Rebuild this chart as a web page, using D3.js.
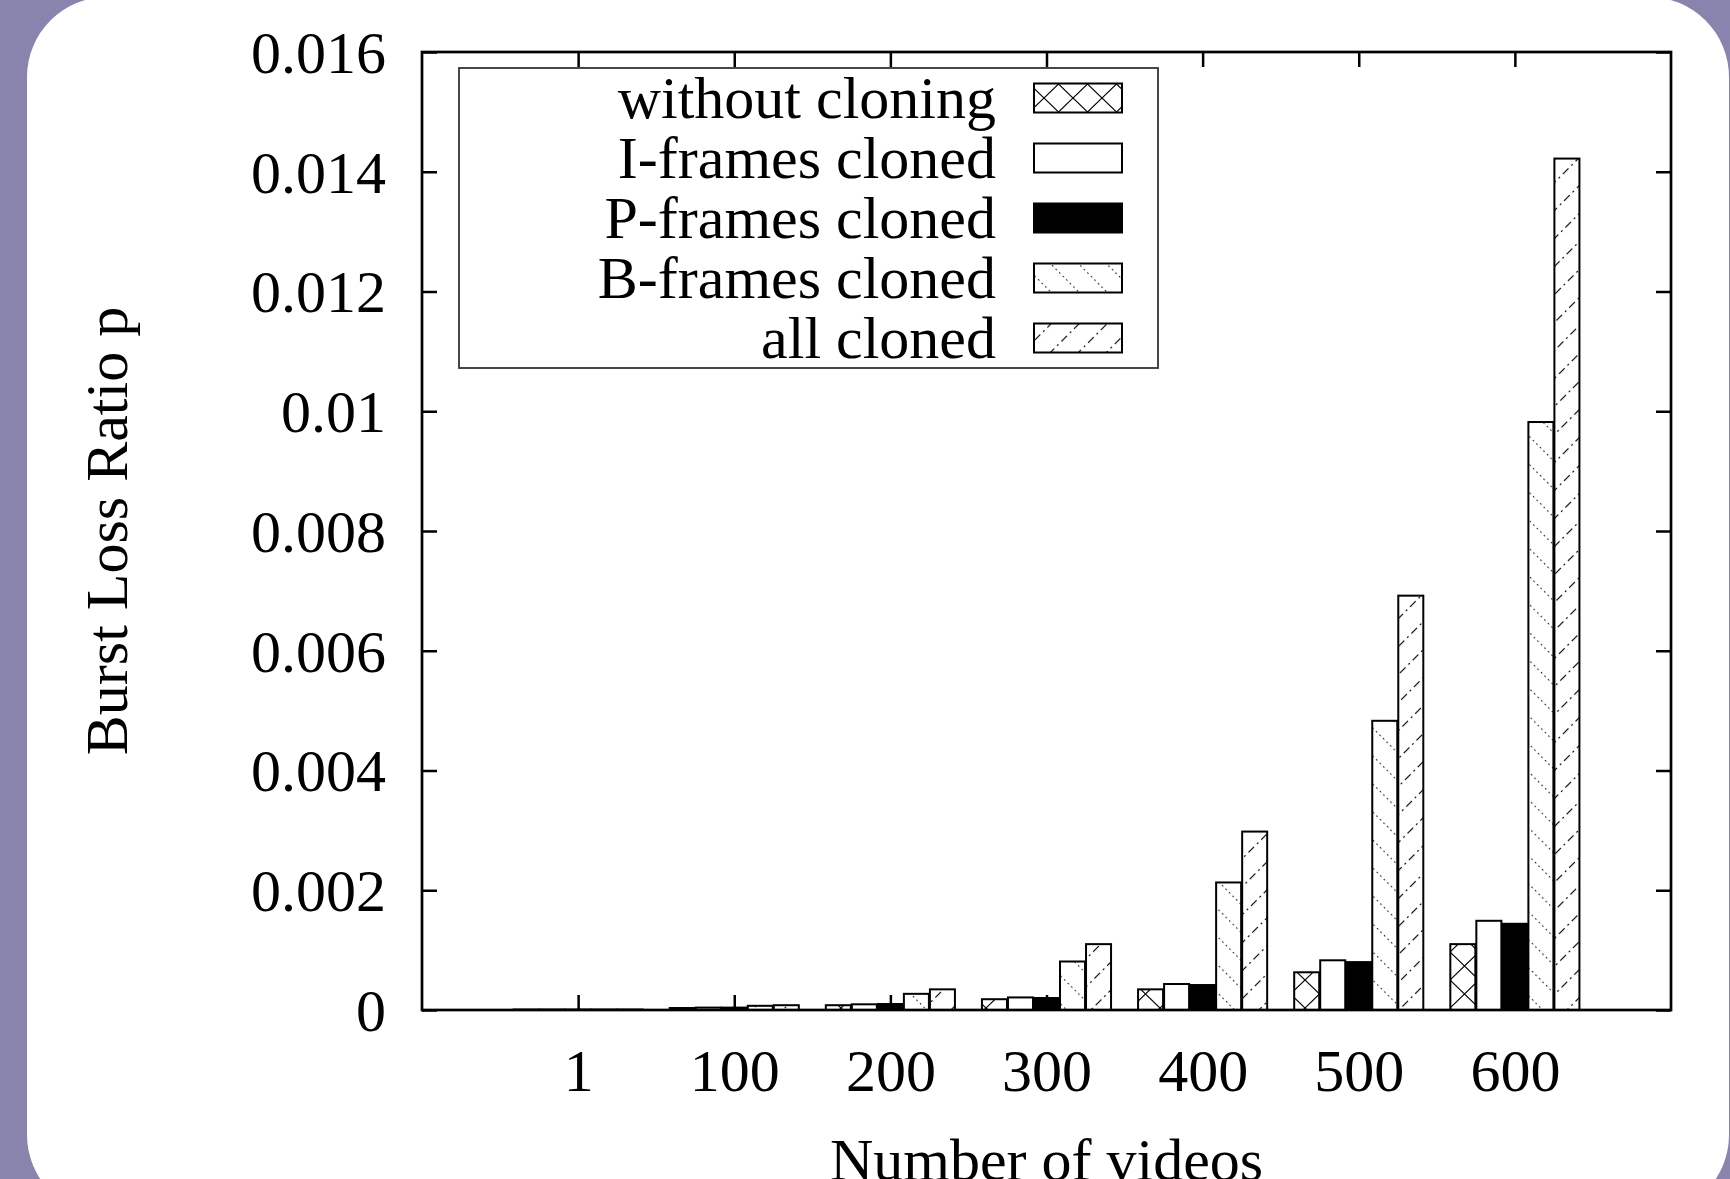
<!DOCTYPE html>
<html>
<head>
<meta charset="utf-8">
<script src="https://cdn.jsdelivr.net/npm/d3@7"></script>
<style>
  html, body { margin: 0; padding: 0; background: #8884ae; }
  svg { display: block; }
  text { font-family: "Liberation Serif", "DejaVu Serif", serif; fill: #000; }
</style>
</head>
<body>
<svg id="chart" width="1730" height="1179"></svg>
<script>
// values
const categories = ['1', '100', '200', '300', '400', '500', '600']
const seriesNames = ['without cloning', 'I-frames cloned', 'P-frames cloned', 'B-frames cloned', 'all cloned']
const withoutCloning = [0.000008, 0.000033, 0.00008, 0.00018, 0.000345, 0.00063, 0.0011]
const iFramesCloned = [0.000008, 0.00004, 0.000095, 0.00021, 0.000434, 0.00083, 0.00149]
const pFramesCloned = [0.000008, 0.00004, 0.0001, 0.0002, 0.000417, 0.0008, 0.00144]
const bFramesCloned = [0.000008, 0.00007, 0.00027, 0.00081, 0.00213, 0.00483, 0.00982]
const allCloned = [0.000008, 0.00008, 0.000345, 0.0011, 0.00298, 0.00692, 0.01422]
const yTicks = [0, 0.002, 0.004, 0.006, 0.008, 0.01, 0.012, 0.014, 0.016]
const yTickLabels = ['0', '0.002', '0.004', '0.006', '0.008', '0.01', '0.012', '0.014', '0.016']

const seriesValues = [withoutCloning, iFramesCloned, pFramesCloned, bFramesCloned, allCloned]
const fills = ['url(#pCross)', '#fff', '#000', 'url(#pBack)', 'url(#pSlash)']

const plotLeft = 422, plotRight = 1671, plotTop = 52, plotBottom = 1010
const fontSize = 60

const svg = d3.select('#chart')

// white rounded panel on the purple page
svg.append('rect')
  .attr('x', 27).attr('y', -3)
  .attr('width', 1702).attr('height', 1218)
  .attr('rx', 80).attr('ry', 80)
  .attr('fill', '#fff')

// fill patterns
const defs = svg.append('defs')
let p = defs.append('pattern').attr('id', 'pCross')
  .attr('patternUnits', 'userSpaceOnUse').attr('width', 29).attr('height', 28)
p.append('rect').attr('width', 29).attr('height', 28).attr('fill', '#fff')
p.append('path').attr('d', 'M0,0L29,28M29,0L0,28')
  .attr('stroke', '#000').attr('stroke-width', 1.2).attr('fill', 'none')

p = defs.append('pattern').attr('id', 'pBack')
  .attr('patternUnits', 'userSpaceOnUse').attr('width', 19.8).attr('height', 20)
  .attr('patternTransform', 'rotate(-45)')
p.append('rect').attr('width', 19.8).attr('height', 20).attr('fill', '#fff')
p.append('line').attr('x1', 0.5).attr('y1', 0).attr('x2', 0.5).attr('y2', 20)
  .attr('stroke', '#000').attr('stroke-width', 1.1).attr('stroke-dasharray', '1.5,3.5')

p = defs.append('pattern').attr('id', 'pSlash')
  .attr('patternUnits', 'userSpaceOnUse').attr('width', 19.8).attr('height', 36)
  .attr('patternTransform', 'rotate(45)')
p.append('rect').attr('width', 19.8).attr('height', 36).attr('fill', '#fff')
p.append('line').attr('x1', 0.5).attr('y1', 0).attr('x2', 0.5).attr('y2', 36)
  .attr('stroke', '#000').attr('stroke-width', 1.2).attr('stroke-dasharray', '8,4,2,4')

// scales
const x = d3.scaleLinear().domain([-1, 7]).range([plotLeft, plotRight])
const unit = x(1) - x(0)
const band = d3.scaleBand().domain(d3.range(seriesNames.length))
  .range([-unit * 5 / 12, unit * 5 / 12])
const y = d3.scaleLinear().domain([0, 0.016]).range([plotBottom, plotTop])

// bars
seriesValues.forEach((vals, s) => {
  svg.append('g').selectAll('rect').data(vals).enter()
    .append('rect')
    .attr('x', (d, i) => x(i) + band(s) + 0.5)
    .attr('width', band.bandwidth() - 1)
    .attr('y', d => y(d))
    .attr('height', d => plotBottom - y(d))
    .attr('fill', fills[s])
    .attr('stroke', '#000')
    .attr('stroke-width', 2)
})

// axes, ticks pointing inward
const catIdx = d3.range(categories.length)
const gL = svg.append('g').attr('transform', `translate(${plotLeft},0)`)
  .call(d3.axisLeft(y).tickValues(yTicks).tickFormat((d, i) => yTickLabels[i])
    .tickSize(-15).tickSizeOuter(0).tickPadding(36))
const gR = svg.append('g').attr('transform', `translate(${plotRight},0)`)
  .call(d3.axisRight(y).tickValues(yTicks).tickFormat('').tickSize(-15).tickSizeOuter(0))
const gB = svg.append('g').attr('transform', `translate(0,${plotBottom})`)
  .call(d3.axisBottom(x).tickValues(catIdx).tickFormat(i => categories[i])
    .tickSize(-15).tickSizeOuter(0).tickPadding(38))
const gT = svg.append('g').attr('transform', `translate(0,${plotTop})`)
  .call(d3.axisTop(x).tickValues(catIdx).tickFormat('').tickSize(-15).tickSizeOuter(0))

;[gL, gR, gB, gT].forEach(g => {
  g.select('.domain').remove()
  g.selectAll('line').attr('stroke', '#000').attr('stroke-width', 2.5)
  g.selectAll('text').attr('font-size', fontSize).attr('font-family', null)
})
gL.selectAll('text').attr('dy', '0.34em')

svg.append('rect')
  .attr('x', plotLeft).attr('y', plotTop)
  .attr('width', plotRight - plotLeft).attr('height', plotBottom - plotTop)
  .attr('fill', 'none').attr('stroke', '#000').attr('stroke-width', 2.7)

// axis titles (the x title runs off the bottom edge, as in the original)
svg.append('text')
  .attr('transform', `translate(127,${(plotTop + plotBottom) / 2}) rotate(-90)`)
  .attr('text-anchor', 'middle').attr('font-size', fontSize)
  .text('Burst Loss Ratio p')
svg.append('text')
  .attr('x', (plotLeft + plotRight) / 2).attr('y', 1180)
  .attr('text-anchor', 'middle').attr('font-size', fontSize)
  .text('Number of videos')

// legend
const legend = svg.append('g')
legend.append('rect')
  .attr('x', 459).attr('y', 68).attr('width', 699).attr('height', 300)
  .attr('fill', 'none').attr('stroke', '#333').attr('stroke-width', 1.8)
const rows = legend.selectAll('g.row').data(seriesNames).enter()
  .append('g').attr('class', 'row')
  .attr('transform', (d, i) => `translate(0,${98 + i * 60})`)
rows.append('text')
  .attr('x', 996).attr('y', 20)
  .attr('text-anchor', 'end').attr('font-size', fontSize)
  .text(d => d)
rows.append('rect')
  .attr('x', 1034).attr('y', -14.5).attr('width', 88).attr('height', 29)
  .attr('fill', (d, i) => fills[i])
  .attr('stroke', '#000').attr('stroke-width', 2)
</script>
</body>
</html>
